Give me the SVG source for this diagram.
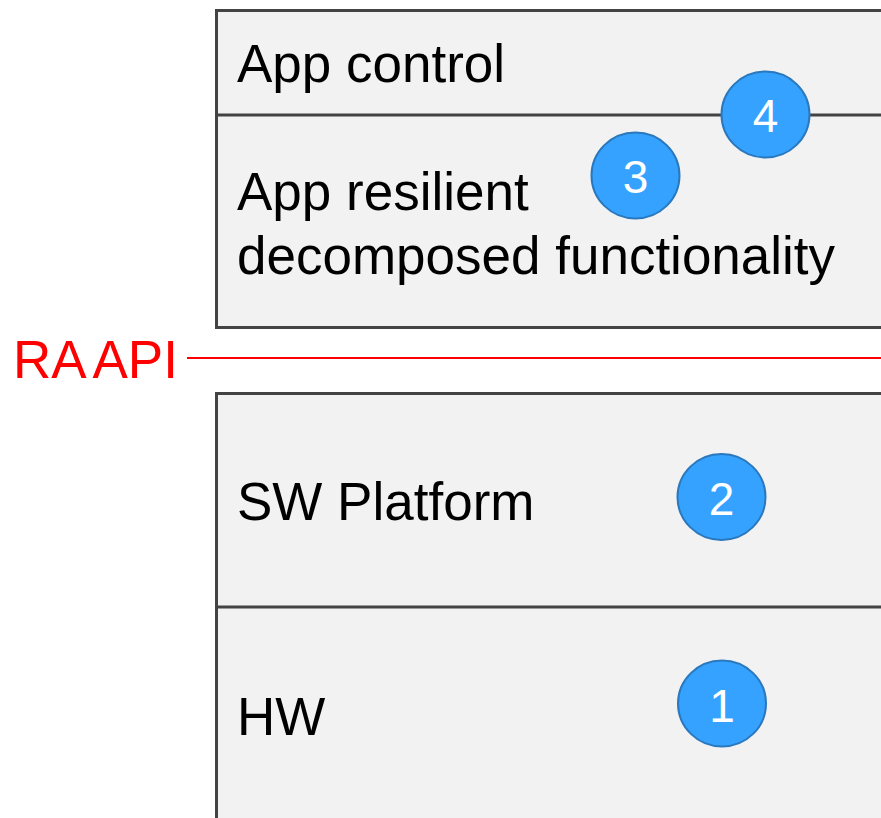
<svg xmlns="http://www.w3.org/2000/svg" width="881" height="818" viewBox="0 0 881 818">
<style>
.box{fill:#f2f2f2;stroke:#434343;stroke-width:3}
.div{stroke:#434343;stroke-width:3}
.lbl{font-family:"Liberation Sans",Arial,sans-serif;font-size:53px;fill:#000}
.badge ellipse{fill:#35a2ff;stroke:#2a78bd;stroke-width:2}
.badge text{font-family:"Liberation Sans",Arial,sans-serif;font-size:46px;fill:#fff;text-anchor:middle}
</style>
<rect width="881" height="818" fill="#fff"/>
<g id="upper-stack">
<rect class="box" x="216.5" y="10.5" width="700" height="317"/>
<line class="div" x1="216" y1="115" x2="881" y2="115"/>
</g>
<g id="app-control"><text class="lbl" x="237" y="82">App control</text></g>
<g id="app-resilient"><text class="lbl" x="237" y="210">App resilient</text><text class="lbl" x="237" y="274">decomposed functionality</text></g>
<g id="lower-stack">
<rect class="box" x="216.5" y="393.5" width="700" height="460"/>
<line class="div" x1="216" y1="607" x2="881" y2="607"/>
</g>
<g id="sw-platform"><text class="lbl" x="237" y="520">SW Platform</text></g>
<g id="hw"><text class="lbl" x="237" y="735">HW</text></g>
<g id="connectors">
<line x1="187" y1="358" x2="881" y2="358" stroke="#ff0000" stroke-width="2"/>
</g>
<g id="ra-api"><text x="13" y="378" font-family="'Liberation Sans',Arial,sans-serif" font-size="53" fill="#ff0000" word-spacing="-3">RA API</text></g>
<g id="badge-4" class="badge"><ellipse cx="765.5" cy="114.5" rx="44" ry="43"/><text x="765.5" y="132">4</text></g>
<g id="badge-3" class="badge"><ellipse cx="635.5" cy="175.5" rx="44" ry="43"/><text x="635.5" y="193">3</text></g>
<g id="badge-2" class="badge"><ellipse cx="721.5" cy="497" rx="44" ry="43"/><text x="721.5" y="515">2</text></g>
<g id="badge-1" class="badge"><ellipse cx="722" cy="703.5" rx="44" ry="43"/><text x="722" y="722">1</text></g>
</svg>
